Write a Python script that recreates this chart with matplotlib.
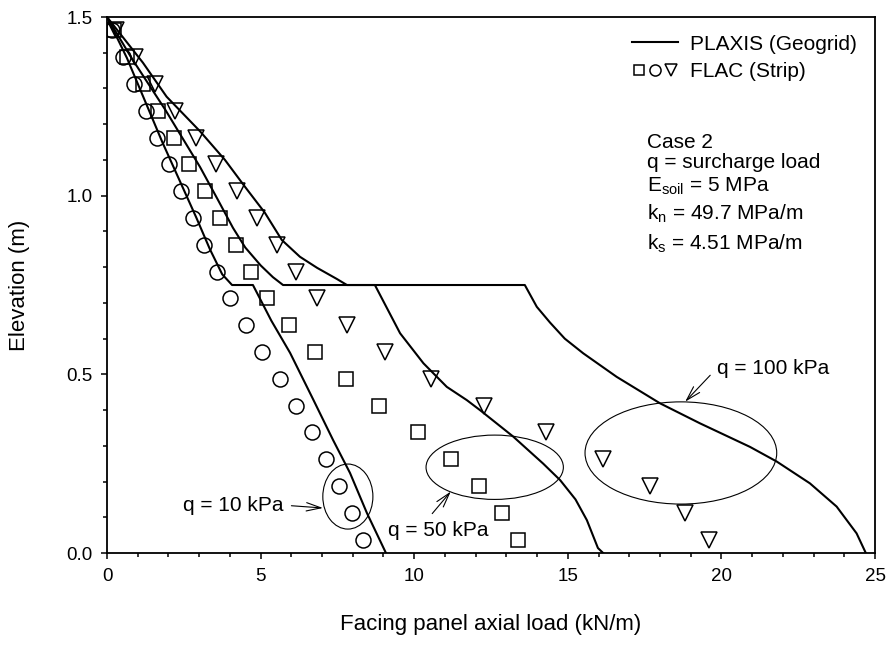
import matplotlib
matplotlib.use('Agg')
import matplotlib.pyplot as plt
from matplotlib.lines import Line2D
from matplotlib.patches import Ellipse
from matplotlib.legend_handler import HandlerTuple
from matplotlib.ticker import MultipleLocator

plt.rcParams['font.family'] = ['Liberation Sans', 'DejaVu Sans']
plt.rcParams['mathtext.fontset'] = 'custom'
plt.rcParams['mathtext.rm'] = 'Liberation Sans'
plt.rcParams['mathtext.it'] = 'Liberation Sans'

###############################################################################
# FLAC (strip) results, one value per elevation

elev = [1.4625, 1.3875, 1.3125, 1.2375, 1.1625, 1.0875, 1.0125, 0.9375,
        0.8625, 0.7875, 0.7125, 0.6375, 0.5625, 0.4875, 0.4125, 0.3375,
        0.2625, 0.1875, 0.1125, 0.0375]
flac_q10 = [0.15, 0.52, 0.88, 1.27, 1.63, 2.02, 2.41, 2.80, 3.17, 3.58,
            4.00, 4.52, 5.05, 5.63, 6.15, 6.67, 7.13, 7.55, 7.98, 8.33]
flac_q50 = [0.22, 0.66, 1.17, 1.67, 2.18, 2.68, 3.19, 3.68, 4.20, 4.69,
            5.21, 5.92, 6.77, 7.78, 8.85, 10.12, 11.20, 12.11, 12.86, 13.38]
flac_q100 = [0.30, 0.91, 1.56, 2.21, 2.89, 3.55, 4.23, 4.88, 5.53, 6.15,
             6.84, 7.81, 9.05, 10.55, 12.27, 14.29, 16.15, 17.68, 18.80, 19.60]

###############################################################################
# PLAXIS (geogrid) curves

plx10_x = [0, 0.65, 1.8, 2.9, 3.35, 3.75, 4.07, 4.75, 5.35, 5.96, 6.71,
           7.36, 7.91, 8.46, 9.08]
plx10_y = [1.5, 1.385, 1.15, 0.94, 0.85, 0.78, 0.75, 0.75, 0.65, 0.56, 0.43,
           0.316, 0.224, 0.112, 0.0]

plx50_x = [0, 0.8, 1.9, 3.03, 3.6, 4.1, 4.5, 5.0, 5.4, 5.73, 8.72, 8.89,
           9.54, 10.30, 11.06, 11.71, 12.14, 13.22, 14.2, 14.75, 15.25, 15.62,
           15.98, 16.15]
plx50_y = [1.5, 1.385, 1.24, 1.08, 0.99, 0.91, 0.855, 0.805, 0.772, 0.75,
           0.75, 0.722, 0.615, 0.531, 0.465, 0.428, 0.40, 0.326, 0.25, 0.204,
           0.15, 0.092, 0.014, 0.0]

plx100_x = [0, 1.17, 1.94, 3.03, 3.84, 4.49, 5.14, 5.69, 6.28, 6.84, 7.48,
            7.81, 13.6, 13.99, 14.42, 14.9, 15.5, 16.59, 18.0, 19.3, 20.93,
            21.8, 22.88, 23.75, 24.4, 24.7]
plx100_y = [1.5, 1.372, 1.277, 1.18, 1.10, 1.025, 0.952, 0.876, 0.829, 0.798,
            0.767, 0.75, 0.75, 0.689, 0.645, 0.60, 0.559, 0.493, 0.419, 0.363,
            0.297, 0.256, 0.195, 0.13, 0.055, 0.0]

###############################################################################
# Ellipses and labels for each surcharge

q_labels = ['q = 10 kPa', 'q = 50 kPa', 'q = 100 kPa']
ell_center = [(7.84, 0.158), (12.62, 0.240), (18.68, 0.280)]
ell_size = [(1.63, 0.182), (4.47, 0.180), (6.24, 0.286)]
arrow_tip = [(7.03, 0.126), (11.19, 0.172), (18.82, 0.4235)]
label_pos = [(2.46, 0.134), (9.15, 0.064), (19.85, 0.517)]
arrow_relpos = [(1.0, 0.5), (0.38, 1.0), (0.0, 0.5)]

case_lines = ['Case 2', 'q = surcharge load', r'E$_{\mathregular{soil}}$ = 5 MPa',
              r'k$_{\mathregular{n}}$ = 49.7 MPa/m',
              r'k$_{\mathregular{s}}$ = 4.51 MPa/m']
case_y = [1.150, 1.0915, 1.027, 0.949, 0.865]

fig = plt.figure(figsize=(8.88, 6.54), dpi=100)
ax = fig.add_axes([0.1205, 0.1544, 0.8649, 0.8196])

mk = dict(ls='none', mfc='none', mec='k', mew=1.1)
ax.plot(flac_q10, elev, marker='o', ms=10.8, **mk)
ax.plot(flac_q50, elev, marker='s', ms=9.6, **mk)
ax.plot(flac_q100, elev, marker='v', ms=11, **mk)

for xs, ys in [(plx10_x, plx10_y), (plx50_x, plx50_y), (plx100_x, plx100_y)]:
    ax.plot(xs, ys, color='k', lw=1.5)

for c, (w, h) in zip(ell_center, ell_size):
    ax.add_patch(Ellipse(c, w, h, fill=False, ec='k', lw=0.8))

for lab, tip, pos, rp in zip(q_labels, arrow_tip, label_pos, arrow_relpos):
    ax.annotate(lab, xy=tip, xytext=pos, ha='left', va='center', fontsize=15,
                arrowprops=dict(arrowstyle='->,head_length=0.7,head_width=0.2',
                                lw=0.8, color='k', relpos=rp,
                                shrinkA=4, shrinkB=0))

for s, yy in zip(case_lines, case_y):
    ax.text(17.58, yy, s, ha='left', va='center', fontsize=15)

# legend with line sample and the three marker shapes
h_line = Line2D([], [], color='k', lw=1.5)
h_sq = Line2D([], [], marker='s', ms=7.5, **mk)
h_ci = Line2D([], [], marker='o', ms=8, **mk)
h_tr = Line2D([], [], marker='v', ms=8, **mk)
ax.legend([h_line, (h_sq, h_ci, h_tr)], ['PLAXIS (Geogrid)', 'FLAC (Strip)'],
          handler_map={tuple: HandlerTuple(ndivide=None, pad=0.05)},
          loc='upper right', frameon=False, fontsize=15, handlelength=2.2,
          handletextpad=0.6, labelspacing=0.4, borderaxespad=0.45)

ax.set_xlim(0, 25)
ax.set_ylim(0, 1.5)
ax.xaxis.set_major_locator(MultipleLocator(5))
ax.xaxis.set_minor_locator(MultipleLocator(1))
ax.yaxis.set_major_locator(MultipleLocator(0.5))
ax.yaxis.set_minor_locator(MultipleLocator(0.1))
ax.yaxis.set_major_formatter(matplotlib.ticker.FormatStrFormatter('%.1f'))
ax.tick_params(which='both', direction='out', width=1.1, labelsize=13.5,
               top=False, right=False)
ax.tick_params(which='major', length=4.5, pad=6)
ax.tick_params(which='minor', length=2.6)
for sp in ax.spines.values():
    sp.set_linewidth(1.3)

ax.set_xlabel('Facing panel axial load (kN/m)', fontsize=16)
ax.set_ylabel('Elevation (m)', fontsize=16)
ax.xaxis.set_label_coords(0.5, -0.114)
ax.yaxis.set_label_coords(-0.100, 0.5)

fig.savefig('out.png', dpi=100)
